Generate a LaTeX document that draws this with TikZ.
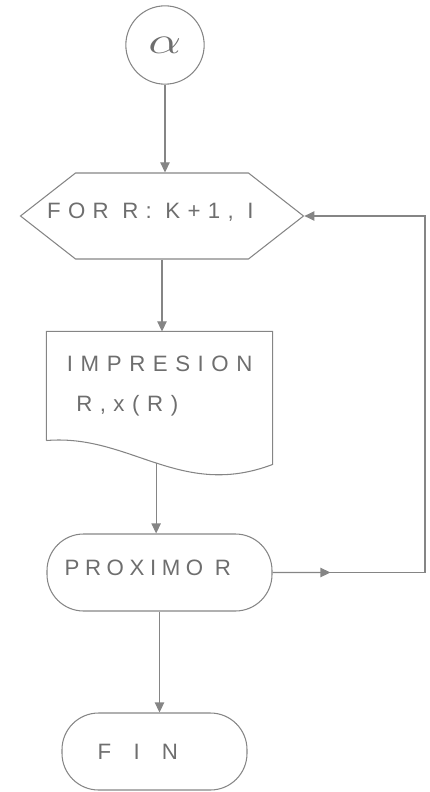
\documentclass[tikz,border=0pt]{standalone}
\usepackage{fontspec}
\setmainfont{Liberation Sans}
\usepackage{xcolor}
\definecolor{pencil}{HTML}{858585}
\definecolor{lead}{HTML}{6E6E6E}
\usepackage{tikz}
\usetikzlibrary{arrows.meta,positioning,calc,shapes.symbols}
\tikzset{
  every picture/.style={line width=0.9pt},
  hand/.style={font=\fontsize{19}{24}\selectfont\addfontfeature{LetterSpace=#1}, text=lead},
  hand/.default=25,
  term/.style={draw=pencil, rounded corners=1.1cm, minimum width=#1, minimum height=2.31cm},
  term/.default=6.75cm,
  arrow/.style={-{Triangle[length=3mm, width=2.8mm]}, draw=pencil},
}

\begin{document}
\begin{tikzpicture}[x=0.03cm, y=-0.03cm,
    loopstep/.style={draw=pencil, signal, signal to=west and east, signal pointer angle=76,
      minimum width=8.49cm, minimum height=2.58cm, hand=33},
    docbox/.style={minimum width=6.75cm, minimum height=3.24cm, inner xsep=0.6cm,
      text width=5.55cm, align=left, hand=34}]
  \useasboundingbox (0,0) rectangle (430,792);
  % nodes
  \node[circle, draw=pencil, minimum size=2.35cm, text=lead] (alfa) at (165,45)
    {\scalebox{1.8}[1.3]{\fontsize{30}{30}\selectfont$\alpha$}};
  \node[loopstep] (for) at (162,216) {\makebox[0pt]{\hspace*{-0.7cm}\raisebox{9pt}{FOR R: K+1, I}}};
  \node[docbox] (imp) at (159.5,386) {IMPRESION\\[10pt]\hspace*{8pt}R , x(R)};
  \node[term, hand] (prox) at (159.5,572.5) {\raisebox{9pt}{PROXIMO R}\hspace*{0.7cm}};
  \node[term=5.55cm, hand=100] (fin) at (154.5,751.5) {FIN\hspace*{1cm}};
  % document outline with wavy foot
  \draw[pencil] (imp.south west) -- (imp.north west) -- (imp.north east) -- ($(imp.north east)+(0,133)$)
    .. controls +(-92,35) and +(83,-7) .. (imp.south west) coordinate[pos=0.5] (impfoot);
  % connectors
  \draw[arrow] (alfa.south) -- (alfa.south |- for.north);
  \draw[arrow] (for.south) -- (for.south |- imp.north);
  \draw[arrow] (impfoot) -- (impfoot |- prox.north);
  \draw[arrow] (prox.south) -- (prox.south |- fin.north);
  % loop back
  \coordinate (corner) at (425,572.5);
  \draw[arrow] (prox.east) -- (corner) |- (for.east);
  \draw[arrow] (prox.east) -- ($(prox.east)!0.38!(corner)$);
\end{tikzpicture}
\end{document}
